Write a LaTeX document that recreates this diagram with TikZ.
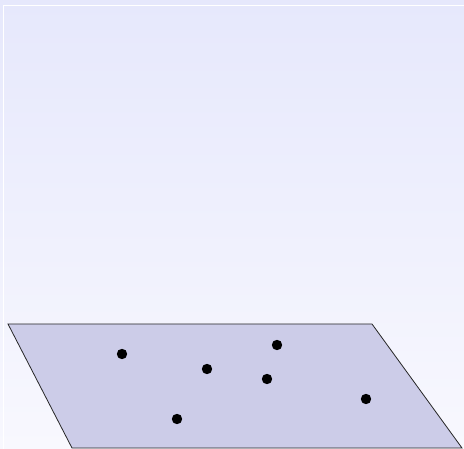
\documentclass[tikz,border=0pt]{standalone}
\usepackage{xcolor}
\definecolor{skytop}{HTML}{E6E8FC}
\definecolor{skybottom}{HTML}{F8F8FE}
\definecolor{planecolor}{HTML}{CCCCE8}
\usepackage{tikz}
\usetikzlibrary{positioning, calc}

\begin{document}
\begin{tikzpicture}[x=1pt, y=-1pt]
  \def\dotr{5.2}
  \useasboundingbox (0,0) rectangle (464,449);
  \clip (0,0) rectangle (464,449);
  % background
  \shade[top color=skytop, bottom color=skybottom] (0,0) rectangle (464,449);
  \draw[white, line width=1.2pt] (3.5,5.5) rectangle (480,470);
  % plane
  \filldraw[fill=planecolor, draw=black!85, line width=0.8pt]
    (8,324) -- (372,324) -- (462,448) -- (72,448) -- cycle;
  % points
  \foreach \px/\py in {122/354, 277/345, 207/369, 267/379, 366/399, 177/419} {
    \fill[black] (\px,\py) circle (\dotr);
  }
\end{tikzpicture}
\end{document}
